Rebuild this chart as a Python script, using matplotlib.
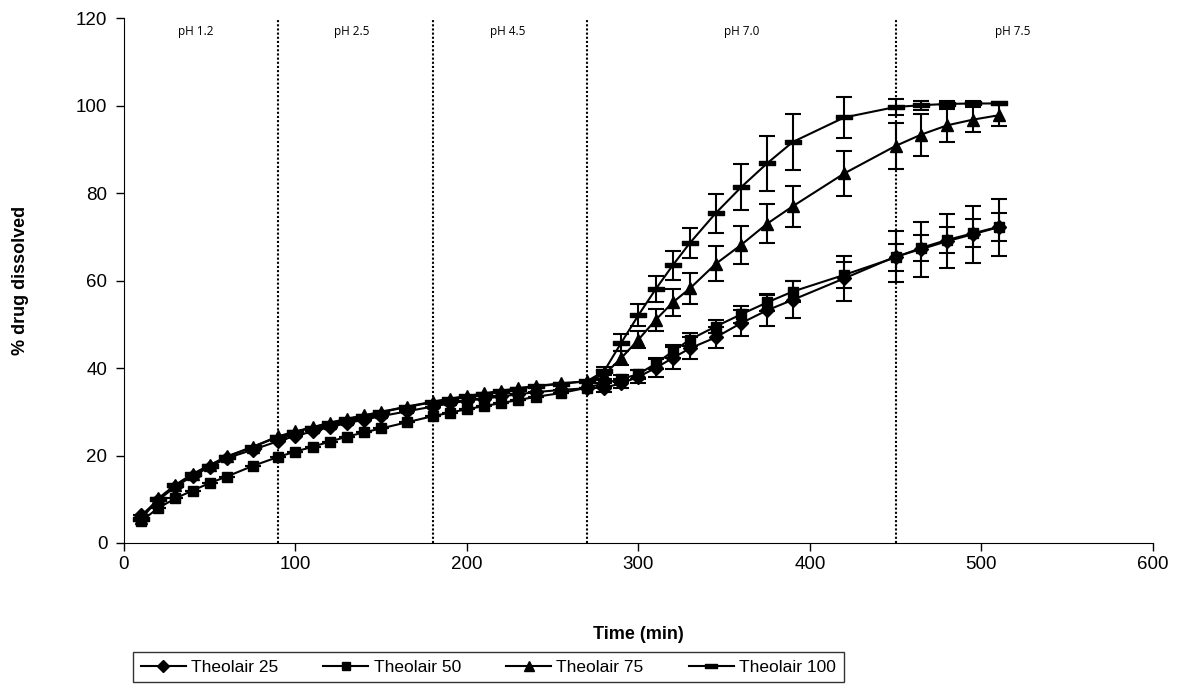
import numpy as np
import matplotlib
matplotlib.use('Agg')
import matplotlib.pyplot as plt
from matplotlib.path import Path
from matplotlib.lines import Line2D

plt.rcParams['font.family'] = ['Liberation Sans', 'DejaVu Sans']

time = [10, 20, 30, 40, 50, 60, 75, 90, 100, 110, 120, 130, 140, 150, 165, 180, 190, 200, 210, 220,
        230, 240, 255, 270, 280, 290, 300, 310, 320, 330, 345, 360, 375, 390, 420, 450, 465, 480, 495, 510]

t25 = [6.3, 9.8, 12.9, 15.3, 17.4, 19.4, 21.3, 23.3, 24.5, 25.5, 26.5, 27.4, 28.2, 29.0, 30.1, 31.2, 31.9, 32.5, 33.0, 33.5,
       34.0, 34.5, 35.0, 35.4, 35.5, 36.5, 38.0, 40.0, 42.3, 44.5, 47.0, 50.3, 53.2, 55.6, 60.5, 65.5, 67.2, 69.0, 70.6, 72.2]
t50 = [5.0, 8.0, 10.2, 12.0, 13.7, 15.2, 17.6, 19.7, 20.9, 22.0, 23.2, 24.3, 25.3, 26.2, 27.6, 29.0, 29.8, 30.6, 31.3, 32.0,
       32.7, 33.4, 34.3, 35.5, 36.5, 37.5, 38.6, 41.0, 43.8, 46.5, 49.5, 52.3, 55.0, 57.5, 61.3, 65.3, 67.5, 69.3, 70.8, 72.3]
t75 = [5.8, 10.2, 13.3, 15.8, 17.8, 19.8, 22.0, 24.4, 25.5, 26.5, 27.5, 28.4, 29.2, 30.0, 31.2, 32.3, 33.0, 33.6, 34.2, 34.8,
       35.4, 35.9, 36.5, 37.0, 38.5, 42.3, 46.5, 51.0, 55.0, 58.2, 63.8, 68.2, 73.0, 77.0, 84.5, 90.8, 93.4, 95.5, 96.8, 97.8]
t100 = [5.5, 10.0, 13.2, 15.7, 17.7, 19.7, 21.9, 24.3, 25.4, 26.4, 27.4, 28.3, 29.1, 29.9, 31.1, 32.2, 32.9, 33.5, 34.1, 34.7,
        35.3, 35.8, 36.4, 37.0, 39.3, 45.8, 52.1, 58.0, 63.5, 68.6, 75.4, 81.4, 86.8, 91.7, 97.3, 99.7, 100.1, 100.4, 100.5, 100.5]

# standard deviations (early ones are hidden behind the markers)
e25 = [0] * 24 + [1.0, 1.0, 1.5, 2.0, 2.5, 2.5, 2.5, 3.0, 3.5, 4.2, 5.2, 5.8, 6.3, 6.2, 6.5, 6.5]
e50 = [0] * 24 + [0.8, 0.8, 1.0, 1.2, 1.5, 1.5, 1.5, 2.0, 2.0, 2.5, 3.0, 3.0, 3.0, 3.0, 3.2, 3.2]
e75 = [0] * 24 + [1.0, 1.5, 2.0, 2.5, 3.0, 3.5, 4.0, 4.3, 4.5, 4.7, 5.2, 5.2, 4.8, 3.7, 2.8, 2.5]
e100 = [0] * 24 + [1.0, 2.0, 2.5, 3.0, 3.3, 3.5, 4.5, 5.2, 6.2, 6.3, 4.6, 1.8, 1.0, 0.6, 0.5, 0.4]

ph_bounds = [90, 180, 270, 450]
ph_labels = ['pH 1.2', 'pH 2.5', 'pH 4.5', 'pH 7.0', 'pH 7.5']
ph_label_x = [42, 133, 224, 360, 518]

dash = Path([(-1, -0.32), (1, -0.32), (1, 0.32), (-1, 0.32), (-1, -0.32)],
            [Path.MOVETO, Path.LINETO, Path.LINETO, Path.LINETO, Path.CLOSEPOLY])

fig = plt.figure(figsize=(11.91, 7), dpi=100)
ax = fig.add_axes([0.1041, 0.2243, 0.8639, 0.7497])

series = [
    (t25, e25, 'D', 7.5, 'Theolair 25'),
    (t50, e50, 's', 7.5, 'Theolair 50'),
    (t75, e75, '^', 8, 'Theolair 75'),
    (t100, e100, dash, 11, 'Theolair 100'),
]
handles = []
for y, e, m, ms, lab in series:
    ax.errorbar(time, y, yerr=e, color='black', lw=1.5, marker=m, markersize=ms,
                elinewidth=1.5, capsize=5.5, capthick=1.5)
    handles.append(Line2D([], [], color='black', lw=1.5, marker=m, markersize=ms * 0.85, label=lab))

for xb in ph_bounds:
    ax.axvline(xb, color='black', linestyle=(0, (1, 1)), lw=1.5)
for xl, t in zip(ph_label_x, ph_labels):
    ax.text(xl, 117, t, ha='center', va='center', fontsize=8.5, family=['Open Sans', 'DejaVu Sans'])

ax.set_xlim(0, 600)
ax.set_ylim(0, 120)
ax.set_xticks(np.arange(0, 601, 100))
ax.set_yticks(np.arange(0, 121, 20))
ax.tick_params(direction='out', length=6, width=1, labelsize=13.5)
ax.tick_params(axis='y', pad=6)
ax.spines['top'].set_visible(False)
ax.spines['right'].set_visible(False)

ax.set_xlabel('Time (min)', fontsize=13, fontweight='bold', labelpad=38)
ax.set_ylabel('% drug dissolved', fontsize=13, fontweight='bold', labelpad=34)

leg = fig.legend(handles=handles, loc='center', bbox_to_anchor=(0.41, 0.047), ncol=4, frameon=True,
                 fancybox=False, edgecolor='black', fontsize=12.5, handlelength=2.6, handletextpad=0.3,
                 columnspacing=2.6, borderpad=0.45)
leg.get_frame().set_linewidth(1)

fig.savefig('out.png', dpi=100)
